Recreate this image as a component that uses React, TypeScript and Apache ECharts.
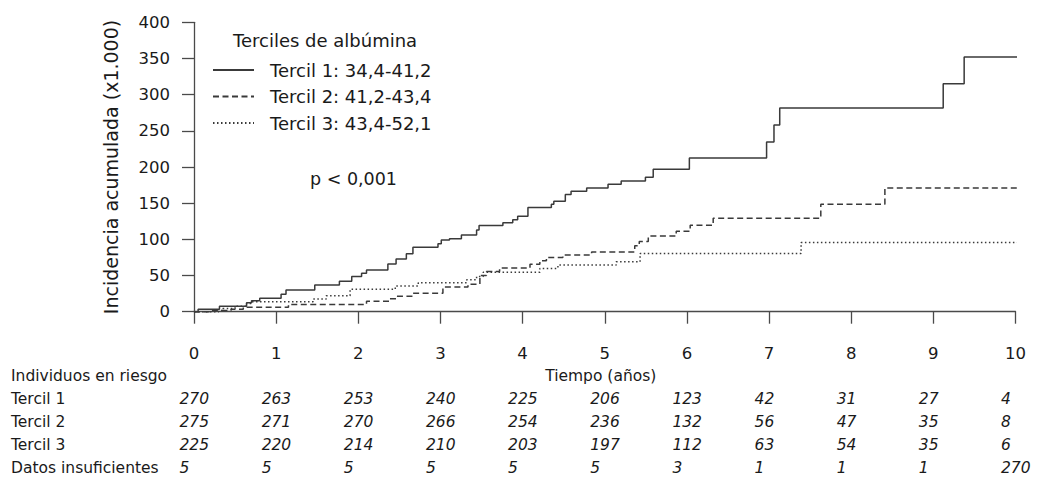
import React, { useEffect, useRef } from "react";
import * as echarts from "echarts";

const timeTicks = [0, 1, 2, 3, 4, 5, 6, 7, 8, 9, 10];
const yTicksMax = 400;
const seriesNames = ["Tercil 1: 34,4-41,2", "Tercil 2: 41,2-43,4", "Tercil 3: 43,4-52,1"];

const tercil1: [number, number][] = [
  [0, 0], [0.05, 3.5], [0.31, 7.5], [0.64, 12.5], [0.7, 15], [0.8, 18.5], [1.06, 24], [1.12, 30],
  [1.47, 37], [1.77, 42], [1.92, 48.5], [2.04, 53], [2.1, 57.5], [2.36, 66], [2.46, 73], [2.585, 80],
  [2.665, 89], [2.97, 94], [3.01, 99], [3.11, 101], [3.255, 106], [3.44, 113], [3.47, 119], [3.76, 123],
  [3.88, 127], [3.94, 132], [4.065, 144], [4.35, 148.5], [4.38, 152.5], [4.52, 162], [4.59, 166.5],
  [4.78, 171], [5.04, 176], [5.2, 180.5], [5.495, 186], [5.59, 197], [6.03, 212.5], [6.97, 234.5],
  [7.06, 258], [7.13, 281.5], [9.12, 315], [9.375, 352], [10.26, 352],
];
const tercil2: [number, number][] = [
  [0, 0], [0.2, 1.5], [0.45, 3.5], [0.6, 6], [1.15, 10], [2.1, 14.5], [2.38, 18], [2.47, 21.5],
  [2.665, 25.4], [3.03, 34], [3.335, 38], [3.48, 50], [3.56, 55.5], [3.72, 60.5], [4.09, 65.5],
  [4.21, 70.5], [4.29, 75], [4.49, 78.5], [4.84, 82.5], [5.365, 91], [5.42, 97], [5.53, 104.5],
  [5.87, 111.3], [6.04, 119.6], [6.32, 129], [7.63, 148.6], [8.41, 171], [10.18, 171],
];
const tercil3: [number, number][] = [
  [0, 0], [0.3, 1.5], [0.35, 4.5], [0.5, 7.5], [0.64, 11.5], [0.7, 13.8], [1.45, 17.5], [1.61, 22],
  [1.9, 31], [2.45, 35.5], [2.73, 40], [3.32, 44], [3.44, 48.5], [3.52, 54.5], [4.21, 59.8],
  [4.43, 64.4], [5.14, 69], [5.43, 80.5], [7.39, 95.5], [10.26, 95.5],
];

const riskRowLabels = ["Tercil 1", "Tercil 2", "Tercil 3", "Datos insuficientes"];
const riskTercil1 = [270, 263, 253, 240, 225, 206, 123, 42, 31, 27, 4];
const riskTercil2 = [275, 271, 270, 266, 254, 236, 132, 56, 47, 35, 8];
const riskTercil3 = [225, 220, 214, 210, 203, 197, 112, 63, 54, 35, 6];
const riskInsuf = [5, 5, 5, 5, 5, 5, 3, 1, 1, 1, 270];

const FONT = "DejaVu Sans";
const TEXT = "#1a1a1a";
const AXIS = "#4a4a4a";
const LINE = "#3a3a3a";

export default function App() {
  const ref = useRef<HTMLDivElement>(null);
  useEffect(() => {
    const chart = echarts.init(ref.current!, null, { renderer: "svg" });
    const lineTypes: any[] = ["solid", [6, 3.5], [1.5, 2.5]];
    const datas = [tercil1, tercil2, tercil3];
    chart.setOption({
      animation: false,
      grid: { left: 194, right: 21.5, top: 22.3, bottom: 180.3 },
      xAxis: {
        type: "value", min: 0, max: timeTicks[timeTicks.length - 1], interval: 1,
        axisLine: { show: true, lineStyle: { color: AXIS, width: 1.3 } },
        axisTick: { show: true, length: 12, lineStyle: { color: AXIS, width: 1.3 } },
        axisLabel: { margin: 33, fontFamily: FONT, fontSize: 16.5, color: TEXT },
        splitLine: { show: false },
      },
      yAxis: {
        type: "value", min: 0, max: yTicksMax, interval: 50,
        name: "Incidencia acumulada (x1.000)", nameLocation: "middle", nameGap: 74,
        nameTextStyle: { fontFamily: FONT, fontSize: 19, color: TEXT },
        axisLine: { show: true, lineStyle: { color: AXIS, width: 1.3 } },
        axisTick: { show: true, length: 12, lineStyle: { color: AXIS, width: 1.3 } },
        axisLabel: { margin: 24, fontFamily: FONT, fontSize: 16.5, color: TEXT },
        splitLine: { show: false },
      },
      legend: {
        data: seriesNames, orient: "vertical", left: 212, top: 61, padding: 0,
        itemWidth: 41, itemHeight: 12, itemGap: 8.5,
        itemStyle: { opacity: 0 },
        textStyle: { fontFamily: FONT, fontSize: 18, color: TEXT, lineHeight: 18, padding: [0, 0, 0, 11] },
      },
      series: datas.map((d, i) => ({
        type: "line", name: seriesNames[i], data: d, step: "end", symbol: "none", clip: false,
        lineStyle: { color: LINE, width: 1.5, type: lineTypes[i] },
        itemStyle: { color: LINE },
      })),
    });

    const px = (t: number) => chart.convertToPixel({ xAxisIndex: 0 }, t) as number;
    const txt = (text: string, x: number, y: number, size: number, opts: any = {}) => ({
      type: "text", x, y, silent: true,
      style: { text, fontFamily: FONT, fontSize: size, fill: TEXT, align: "left", verticalAlign: "middle", ...opts },
    });
    const g: any[] = [];
    g.push(txt("Terciles de albúmina", 233, 40, 18));
    g.push(txt("p < 0,001", 310, 179, 17.5));
    g.push(txt("Individuos en riesgo", 11, 376, 15.5));
    g.push(txt("Tiempo (años)", (px(0) + px(10)) / 2 - 4, 376, 15.5, { align: "center" }));
    const rows = [riskTercil1, riskTercil2, riskTercil3, riskInsuf];
    const rowY = [399, 422, 445, 468];
    rows.forEach((r, ri) => {
      g.push(txt(riskRowLabels[ri], 11, rowY[ri], 15.5));
      r.forEach((v, ci) => {
        g.push(txt(String(v), px(timeTicks[ci]) - 14.5, rowY[ri], 15.5, { fontStyle: "italic" }));
      });
    });
    chart.setOption({ graphic: g });
    return () => chart.dispose();
  }, []);
  return <div ref={ref} style={{ position: "absolute", left: 0, top: 0, width: 1037, height: 492 }} />;
}
